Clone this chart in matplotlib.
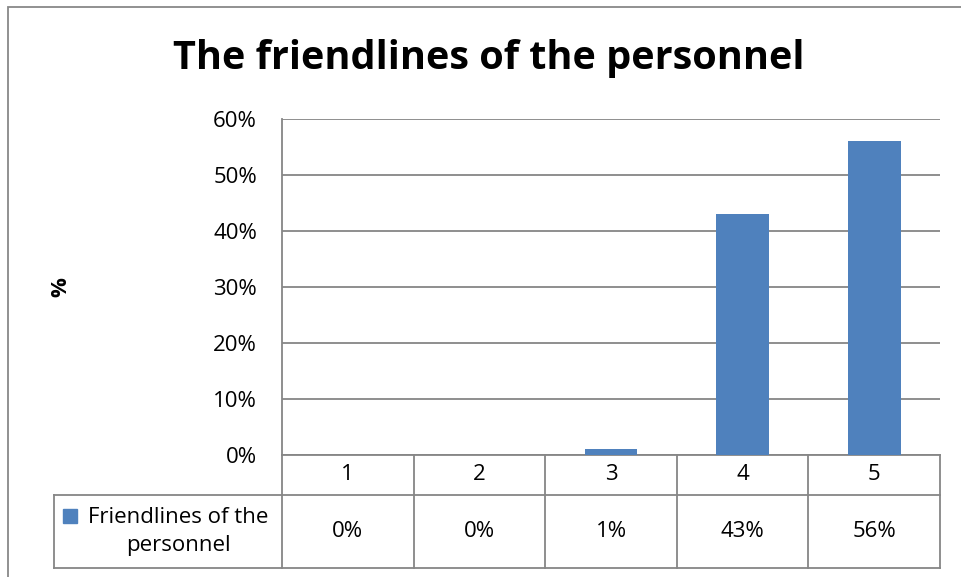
import matplotlib
matplotlib.use('Agg')
import matplotlib.pyplot as plt
from matplotlib.patches import Rectangle
from matplotlib.lines import Line2D

categories = ['1', '2', '3', '4', '5']
values = [0, 0, 1, 43, 56]
value_labels = ['0%', '0%', '1%', '43%', '56%']
series_name = 'Friendlines of the\npersonnel'
title = 'The friendlines of the personnel'
yticks = [0, 10, 20, 30, 40, 50, 60]

BLUE = '#4F81BD'
GRID = '#868686'
FONT = 'Open Sans'
FS = 16

W, H = 961, 577
fig = plt.figure(figsize=(W / 100, H / 100), dpi=100)
plt.rcParams['font.family'] = [FONT, 'DejaVu Sans']

# plot area in pixels: x 282..940, y 119..455
left, right, top, bottom = 282, 940, 119, 455
ax = fig.add_axes([left / W, 1 - bottom / H, (right - left) / W, (bottom - top) / H])

xs = list(range(1, len(categories) + 1))
ax.bar(xs, values, width=0.4, color=BLUE, zorder=3)
ax.set_xlim(0.5, len(categories) + 0.5)
ax.set_ylim(0, 60)
ax.set_yticks(yticks)
ax.set_yticklabels([f'{t}%' for t in yticks], fontsize=FS)
ax.tick_params(axis='y', length=0, pad=18)
ax.set_xticks([])
ax.yaxis.grid(True, color=GRID, linewidth=1.3, zorder=0)
for s in ['top', 'right', 'bottom']:
    ax.spines[s].set_visible(False)
ax.spines['left'].set_color(GRID)
ax.spines['left'].set_linewidth(1.3)
fig.text(61 / W, 1 - 287 / H, '%', rotation=90, ha='center', va='center',
         fontsize=FS, fontweight='bold')

# data table under the axis, x in data units, y in axes units
ph = bottom - top
row1 = -(495 - bottom) / ph
row2 = -(568 - bottom) / ph
unit = (right - left) / len(categories)
lab_left = 0.5 - (left - 54) / unit
tr = ax.get_xaxis_transform()

def seg(x0, x1, y0, y1):
    ax.add_line(Line2D([x0, x1], [y0, y1], transform=tr, color=GRID,
                       linewidth=1.3, clip_on=False))

seg(0.5, 5.5, 0, 0)
seg(lab_left, 5.5, row1, row1)
seg(lab_left, 5.5, row2, row2)
seg(lab_left, lab_left, row1, row2)
for b in range(len(categories) + 1):
    seg(b + 0.5, b + 0.5, 0, row2)

for x, c, v in zip(xs, categories, value_labels):
    ax.text(x, row1 / 2, c, transform=tr, ha='center', va='center', fontsize=FS)
    ax.text(x, (row1 + row2) / 2, v, transform=tr, ha='center', va='center', fontsize=FS)

# legend key and series name in the row header
ax.add_patch(Rectangle((lab_left + 9 / unit, (row1 + row2) / 2 + 9 / ph), 14 / unit, 14 / ph,
                       transform=tr, color=BLUE, clip_on=False))
ax.text(0.5 - 104 / unit, (row1 + row2) / 2, series_name, transform=tr,
        ha='center', va='center', fontsize=FS, multialignment='center', linespacing=1.45)

fig.text(489 / W, 1 - 59 / H, title, ha='center', va='center', fontsize=28.5, fontweight='bold')

# outer chart border
fig.add_artist(Rectangle((8 / W, -0.1), 1.2, 1 - 7 / H + 0.1, transform=fig.transFigure,
                         fill=False, edgecolor='#888888', linewidth=1.3))

fig.savefig('out.png', dpi=100)
